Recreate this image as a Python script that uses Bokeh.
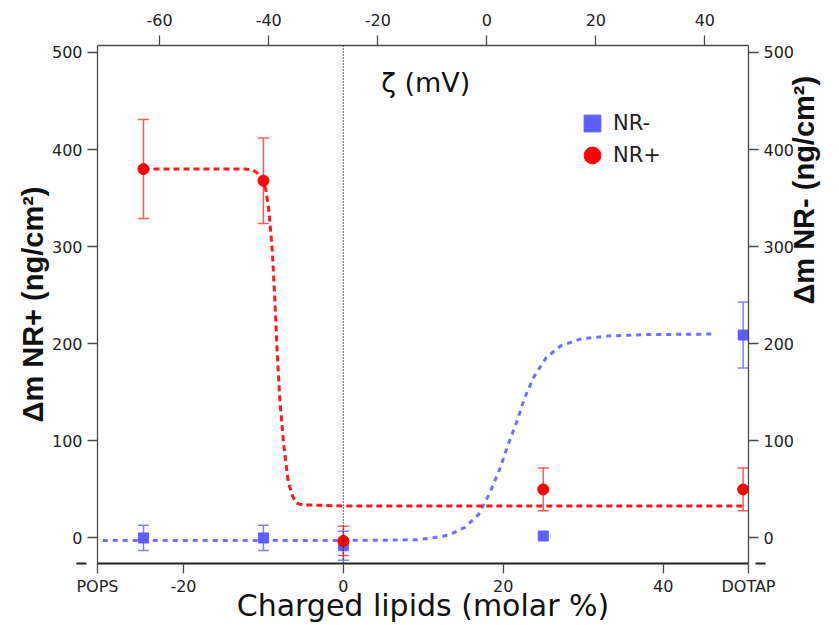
import math
from bokeh.plotting import figure
from bokeh.models import (Range1d, LinearAxis, FixedTicker, Whisker, TeeHead, ColumnDataSource,
                          Span, Label, Arrow, NormalHead, Legend, LegendItem)
from bokeh.embed import file_html
from bokeh.resources import INLINE

# ---------------- data ----------------
lipid_pct = [-25, -10, 0, 25, 50]                 # charged lipids (molar %)
nr_plus = [380, 368, -3, 50, 50]                  # Δm NR+ (ng/cm2)
nr_plus_err = [51, 44, 15, 22, 22]
nr_minus = [0, 0, -8, 2, 209]                     # Δm NR- (ng/cm2)
nr_minus_err = [13, 13, 15, 0, 34]

fit_plus_x = [-25, -20, -15, -12.3, -11.3, -10.8, -10.2, -9.7, -9.3, -8.9, -8.57, -8.3,
              -7.95, -7.5, -6.9, -6.4, -5.9, -5.3, -4.6, 0, 10, 20, 30, 40, 50]
fit_plus_y = [380, 380, 380, 380, 379, 376, 370, 359, 336, 297, 246, 195,
              143, 99, 58, 44, 36, 34.5, 34, 33, 33, 33, 33, 33, 33]

fit_minus_x = [-30.1, -20, -10, 0, 5, 9.4, 11.5, 13.2, 15.2, 16.9, 18.3, 19.6, 20.6,
               21.7, 22.7, 23.9, 25.4, 27.2, 29.7, 33, 38, 46.4]
fit_minus_y = [-2.5, -2.5, -2.5, -2.5, -2.3, -1.7, 0.5, 3, 11, 24, 46, 72, 96,
               120, 145, 167, 186, 198, 205, 208, 209.5, 210]

x_ticks = [-20, 0, 20, 40]
zeta_ticks = [-60, -40, -20, 0, 20, 40]
y_ticks = [0, 100, 200, 300, 400, 500]
end_labels = ["POPS", "DOTAP"]

X_MIN, X_MAX = -30.75, 50.67
Y_MIN, Y_MAX = -26.3, 507.2
Z_MIN, Z_MAX = -71.4, 48.0

RED = "#ff0000"
BLUE = "#5f5fff"
AXIS_COL = "#4a4a4a"
TXT = "#222222"
FONT = "DejaVu Sans"

p = figure(width=839, height=625, output_backend="svg", toolbar_location=None,
           x_range=Range1d(X_MIN, X_MAX), y_range=Range1d(Y_MIN, Y_MAX),
           min_border_left=97, min_border_right=88, min_border_top=45, min_border_bottom=59)
p.outline_line_color = None
p.grid.visible = False
p.background_fill_color = "white"
p.border_fill_color = "white"

def hyphen_labels(ticks):
    # plain ASCII hyphen for negative tick labels, as in the original
    return {t: str(t) for t in ticks if t < 0}

def style_axis(ax):
    ax.major_label_text_font = FONT
    ax.major_label_text_font_size = "16px"
    ax.major_label_text_color = TXT
    ax.axis_line_color = AXIS_COL
    ax.axis_line_width = 1.3
    ax.major_tick_line_color = AXIS_COL
    ax.major_tick_line_width = 1.3
    ax.major_tick_out = 10
    ax.major_tick_in = 0
    ax.minor_tick_line_color = None
    ax.major_label_standoff = 5

# bottom axis (with POPS / DOTAP at the ends)
xa = p.xaxis[0]
xa.ticker = FixedTicker(ticks=[X_MIN] + x_ticks + [X_MAX])
ov = hyphen_labels(x_ticks)
ov.update({X_MIN: end_labels[0], X_MAX: end_labels[1]})
xa.major_label_overrides = ov
style_axis(xa)
xa.axis_line_color = "#222222"
xa.axis_line_width = 2
xa.major_label_standoff = 3
xa.axis_label = "Charged lipids (molar %)"
xa.axis_label_text_font = FONT
xa.axis_label_text_font_size = "30px"
xa.axis_label_text_font_style = "normal"
xa.axis_label_text_color = "#111111"
xa.axis_label_standoff = -11

# left axis
ya = p.yaxis[0]
ya.ticker = FixedTicker(ticks=y_ticks)
style_axis(ya)
ya.axis_label = "Δm NR+ (ng/cm²)"
ya.axis_label_text_font = "Liberation Sans"
ya.axis_label_text_font_size = "29px"
ya.axis_label_text_font_style = "bold"
ya.axis_label_text_color = "#111111"
ya.axis_label_standoff = 0

# right axis
ra = LinearAxis(ticker=FixedTicker(ticks=y_ticks), axis_label="Δm NR- (ng/cm²)")
style_axis(ra)
ra.axis_label_text_font = "Liberation Sans"
ra.axis_label_text_font_size = "29px"
ra.axis_label_text_font_style = "bold"
ra.axis_label_text_color = "#111111"
ra.axis_label_standoff = 7
ra.axis_label_orientation = math.pi / 2
p.add_layout(ra, "right")

# top axis (zeta potential)
p.extra_x_ranges = {"zeta": Range1d(Z_MIN, Z_MAX)}
ta = LinearAxis(x_range_name="zeta", ticker=FixedTicker(ticks=zeta_ticks))
ta.major_label_overrides = hyphen_labels(zeta_ticks)
style_axis(ta)
ta.major_label_standoff = 10
p.add_layout(ta, "above")

# vertical dotted line at 0 molar %
p.add_layout(Span(location=0, dimension="height", line_color="#000000",
                  line_dash="1 2", line_width=1.2))

# fit curves
p.line(fit_minus_x, fit_minus_y, line_color=BLUE, line_width=3, line_dash="5 5", line_alpha=0.9)
p.line(fit_plus_x, fit_plus_y, line_color=RED, line_width=3, line_dash="6 4", line_alpha=0.9)

# error bars
mx = [x for x, e in zip(lipid_pct, nr_minus_err) if e > 0]
my = [y for y, e in zip(nr_minus, nr_minus_err) if e > 0]
me = [e for e in nr_minus_err if e > 0]
src_m = ColumnDataSource(dict(x=mx, upper=[y + e for y, e in zip(my, me)],
                              lower=[y - e for y, e in zip(my, me)]))
p.add_layout(Whisker(source=src_m, base="x", upper="upper", lower="lower",
                     line_color="#8080ff", line_width=1.5,
                     upper_head=TeeHead(size=11, line_color="#8080ff", line_width=1.5),
                     lower_head=TeeHead(size=11, line_color="#8080ff", line_width=1.5)))
src_p = ColumnDataSource(dict(x=lipid_pct, upper=[y + e for y, e in zip(nr_plus, nr_plus_err)],
                              lower=[y - e for y, e in zip(nr_plus, nr_plus_err)]))
p.add_layout(Whisker(source=src_p, base="x", upper="upper", lower="lower",
                     line_color="#ff5a5a", line_width=1.5,
                     upper_head=TeeHead(size=11, line_color="#ff5a5a", line_width=1.5),
                     lower_head=TeeHead(size=11, line_color="#ff5a5a", line_width=1.5)))

# markers
sq = p.scatter(lipid_pct, nr_minus, marker="square", size=10, fill_color=BLUE, line_color=BLUE)
ci = p.scatter(lipid_pct, nr_plus, marker="circle", size=11, fill_color=RED, line_color=RED)

common = dict(glyph_width=42, glyph_height=42, padding=0, margin=0, label_standoff=-3,
              label_text_font=FONT, label_text_font_size="21px", label_text_color=TXT,
              border_line_color=None, background_fill_alpha=0)
p.add_layout(Legend(items=[LegendItem(label="NR-", renderers=[sq])], location=(474, 419), **common))
p.add_layout(Legend(items=[LegendItem(label="NR+", renderers=[ci])], location=(474, 387), **common))

# title-like annotation inside the plot
p.add_layout(Label(x=10.3, y=469.5, text="ζ (mV)", text_align="center", text_baseline="middle",
                   text_font=FONT, text_font_size="27px", text_color="#111111"))

# arrows extending the bottom axis
p.add_layout(Arrow(end=NormalHead(size=10, fill_color="#222222", line_color="#222222"),
                   x_start=X_MIN, y_start=Y_MIN, x_end=-33.4, y_end=Y_MIN,
                   line_color="#222222", line_width=2))
p.add_layout(Arrow(end=NormalHead(size=10, fill_color="#222222", line_color="#222222"),
                   x_start=X_MAX, y_start=Y_MIN, x_end=52.8, y_end=Y_MIN,
                   line_color="#222222", line_width=2))

open("out.html", "w").write(file_html(p, INLINE))
